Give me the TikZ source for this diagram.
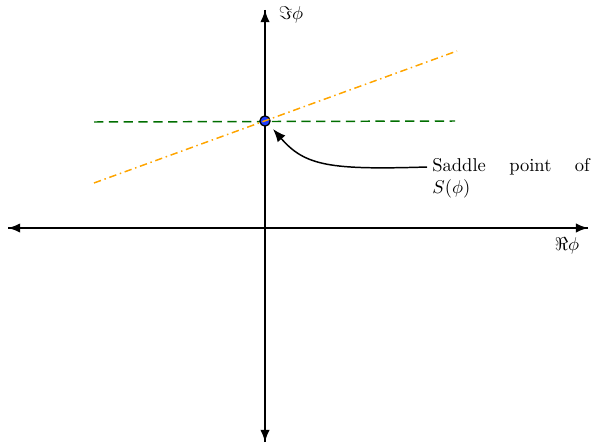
\documentclass[tikz,border=0pt]{standalone}
\usetikzlibrary{arrows.meta}
\usepackage{amssymb}
\begin{document}
\begin{tikzpicture}[x=0.54pt,y=-0.54pt,
  axis/.style={line width=0.8pt,-{Latex[length=6.5pt,width=5pt]}},
  axlabel/.style={inner sep=0pt},
  greenline/.style={dash pattern=on 5pt off 3pt,line width=0.8pt,draw={rgb,255:red,0;green,110;blue,0}},
  orangeline/.style={dash pattern=on 4pt off 2pt on 0.8pt off 2pt,line width=0.8pt,draw={rgb,255:red,255;green,165;blue,0}},
  saddle/.style={circle,draw=black,fill={rgb,255:red,30;green,60;blue,255},line width=0.7pt,minimum size=5.5pt,inner sep=0pt},
  callout/.style={line width=0.8pt,-{Latex[length=7pt,width=5.5pt]}},
  note/.style={text width=85pt,align=justify,inner sep=0pt,anchor=north west}]
\useasboundingbox (0,0) rectangle (592,444);
\coordinate (L) at (8,228);
\coordinate (R) at (588,228);
\coordinate (T) at (265,10);
\coordinate (B) at (265,442);
\coordinate (gA) at (94,122);
\coordinate (gB) at (455,121);
\coordinate (oA) at (94,183);
\coordinate (oB) at (457,51);
\draw[greenline] (gA) -- (gB);
\draw[axis] (L) -- (R);
\draw[axis] (R) -- (L);
\draw[axis] (B) -- (T);
\draw[axis] (T) -- (B);
\node[saddle] (sp) at (265,121) {};
\draw[orangeline] (oA) -- (oB);
\node[axlabel] (im) at (291,15) {$\Im\phi$};
\node[axlabel] (re) at (567,246) {$\Re\phi$};
\node[note] (txt) at (432,158) {Saddle point of $S(\phi)$};
\coordinate (cs) at (427,167);
\coordinate (tip) at (273,129);
\draw[callout] (cs) .. controls (330,170) and (305,166) .. (tip);
\end{tikzpicture}
\end{document}
